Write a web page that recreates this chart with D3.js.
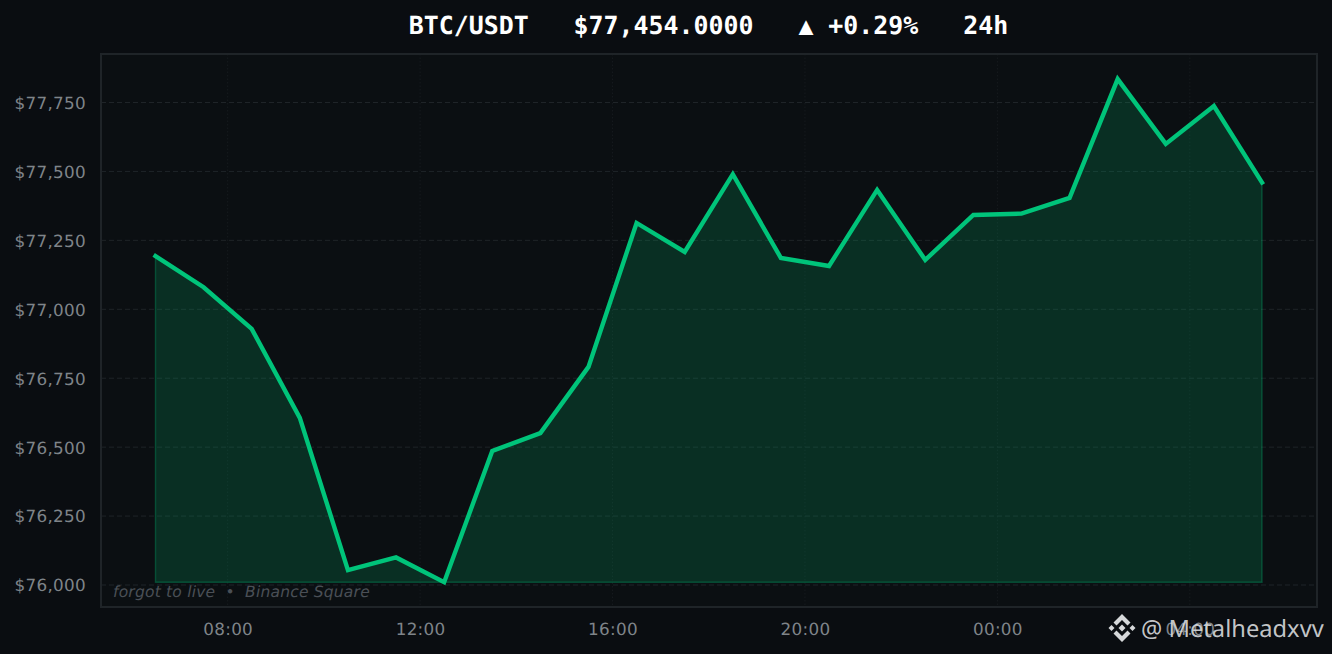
<!DOCTYPE html>
<html lang="en">
<head>
  <meta charset="UTF-8">
  <title>BTC/USDT 24h</title>
  <script src="https://d3js.org/d3.v7.min.js"></script>
  <style>
    html, body { margin: 0; padding: 0; background: #0a0d11; overflow: hidden; }
    svg { display: block; text-rendering: geometricPrecision; }
    .tick text { font-family: "DejaVu Sans", sans-serif; font-size: 16.8px; fill: #7f8489; letter-spacing: 0.3px; }
    .grid line { stroke: #1f2428; }
  </style>
</head>
<body>
  <svg width="1332" height="654"></svg>

  <script>
    // hours since midnight of the first day, one sample per hour
    const hours = [6.5, 7.5, 8.5, 9.5, 10.5, 11.5, 12.5, 13.5, 14.5, 15.5, 16.5, 17.5,
                   18.5, 19.5, 20.5, 21.5, 22.5, 23.5, 24.5, 25.5, 26.5, 27.5, 28.5, 29.5];
    const prices = [77193, 77080, 76929, 76606, 76054, 76100, 76010, 76486, 76551, 76791, 77313, 77208,
                    77490, 77186, 77157, 77433, 77179, 77342, 77347, 77404, 77835, 77600, 77737, 77460];
    const priceTicks = [76000, 76250, 76500, 76750, 77000, 77250, 77500, 77750];
    const timeTicks = [8, 12, 16, 20, 24, 28];
    const timeLabels = ["08:00", "12:00", "16:00", "20:00", "00:00", "04:00"];

    const svg = d3.select("svg");
    const plotLeft = 101, plotRight = 1317, plotTop = 54, plotBottom = 607;

    const x = d3.scaleLinear().domain([6.5, 29.5]).range([155.5, 1262]);
    const y = d3.scaleLinear().domain([76000, 77750]).range([585, 102.5]);

    // plot panel
    svg.append("rect")
        .attr("x", plotLeft).attr("y", plotTop)
        .attr("width", plotRight - plotLeft).attr("height", plotBottom - plotTop)
        .attr("fill", "#0b0f12");

    // grid lines
    svg.append("g").attr("class", "grid")
        .selectAll("line")
        .data(priceTicks)
        .enter().append("line")
        .attr("x1", plotLeft).attr("x2", plotRight)
        .attr("y1", d => y(d)).attr("y2", d => y(d))
        .attr("stroke-width", 1)
        .attr("stroke-dasharray", "5 3");

    svg.append("g").attr("class", "grid")
        .selectAll("line")
        .data(timeTicks)
        .enter().append("line")
        .attr("x1", d => x(d)).attr("x2", d => x(d))
        .attr("y1", plotTop).attr("y2", plotBottom)
        .attr("stroke-width", 1)
        .attr("stroke-dasharray", "1.5 2")
        .attr("opacity", 0.55);

    // area under the line
    const baseline = d3.min(prices);
    const area = d3.area()
        .x((d, i) => x(hours[i]))
        .y0(y(baseline))
        .y1(d => y(d));
    svg.append("path")
        .attr("d", area(prices))
        .attr("fill", "#00c076")
        .attr("fill-opacity", 0.18)
        .attr("stroke", "#00c076")
        .attr("stroke-opacity", 0.3)
        .attr("stroke-width", 1.4);

    // price line
    const line = d3.line()
        .x((d, i) => x(hours[i]))
        .y(d => y(d));
    svg.append("path")
        .attr("d", line(prices))
        .attr("fill", "none")
        .attr("stroke", "#00c47a")
        .attr("stroke-width", 4.4)
        .attr("stroke-linecap", "square")
        .attr("stroke-linejoin", "miter");

    // frame
    svg.append("rect")
        .attr("x", plotLeft).attr("y", plotTop)
        .attr("width", plotRight - plotLeft).attr("height", plotBottom - plotTop)
        .attr("fill", "none")
        .attr("stroke", "#1f2428")
        .attr("stroke-width", 2);

    // axes
    const yAxis = d3.axisLeft(y)
        .tickValues(priceTicks)
        .tickSize(0)
        .tickPadding(15)
        .tickFormat(d => "$" + d3.format(",")(d));
    svg.append("g")
        .attr("transform", `translate(${plotLeft},0.5)`)
        .call(yAxis)
        .call(g => g.select(".domain").remove());

    const xAxis = d3.axisBottom(x)
        .tickValues(timeTicks)
        .tickSize(0)
        .tickPadding(16)
        .tickFormat((d, i) => timeLabels[i]);
    svg.append("g")
        .attr("transform", `translate(0,${plotBottom})`)
        .call(xAxis)
        .call(g => g.select(".domain").remove());

    // title
    svg.append("text")
        .attr("x", 708.5).attr("y", 34)
        .attr("text-anchor", "middle")
        .style("white-space", "pre")
        .style("font-family", "'DejaVu Sans Mono', monospace")
        .style("font-weight", "bold")
        .style("font-size", "24.9px")
        .attr("fill", "#ffffff")
        .text("BTC/USDT   $77,454.0000   ▲ +0.29%   24h");

    // caption inside the plot
    svg.append("text")
        .attr("x", 113).attr("y", 597)
        .style("white-space", "pre")
        .style("font-family", "'DejaVu Sans', sans-serif")
        .style("font-style", "italic")
        .style("font-size", "15.5px")
        .attr("letter-spacing", 0.2)
        .attr("fill", "#4a4f56")
        .text("forgot to live  •  Binance Square");

    // watermark: logo and handle
    const logo = svg.append("g")
        .attr("transform", "translate(1122,628)")
        .attr("fill", "#d6d8da");
    logo.append("path").attr("d", "M0,-14 L8.5,-5.5 L5.5,-2.5 L0,-8 L-5.5,-2.5 L-8.5,-5.5 Z");
    logo.append("path").attr("d", "M0,14 L8.5,5.5 L5.5,2.5 L0,8 L-5.5,2.5 L-8.5,5.5 Z");
    logo.append("path").attr("d", "M0,-3.5 L3.5,0 L0,3.5 L-3.5,0 Z");
    logo.append("path").attr("d", "M-10.5,-3 L-7.5,0 L-10.5,3 L-13.5,0 Z");
    logo.append("path").attr("d", "M10.5,-3 L13.5,0 L10.5,3 L7.5,0 Z");

    svg.append("text")
        .attr("x", 1141).attr("y", 637)
        .style("font-family", "'Noto Sans', sans-serif")
        .style("font-size", "23.7px")
        .attr("fill", "#d6d8da")
        .attr("fill-opacity", 0.92)
        .text("@ Metalheadxvv");
  </script>
</body>
</html>
